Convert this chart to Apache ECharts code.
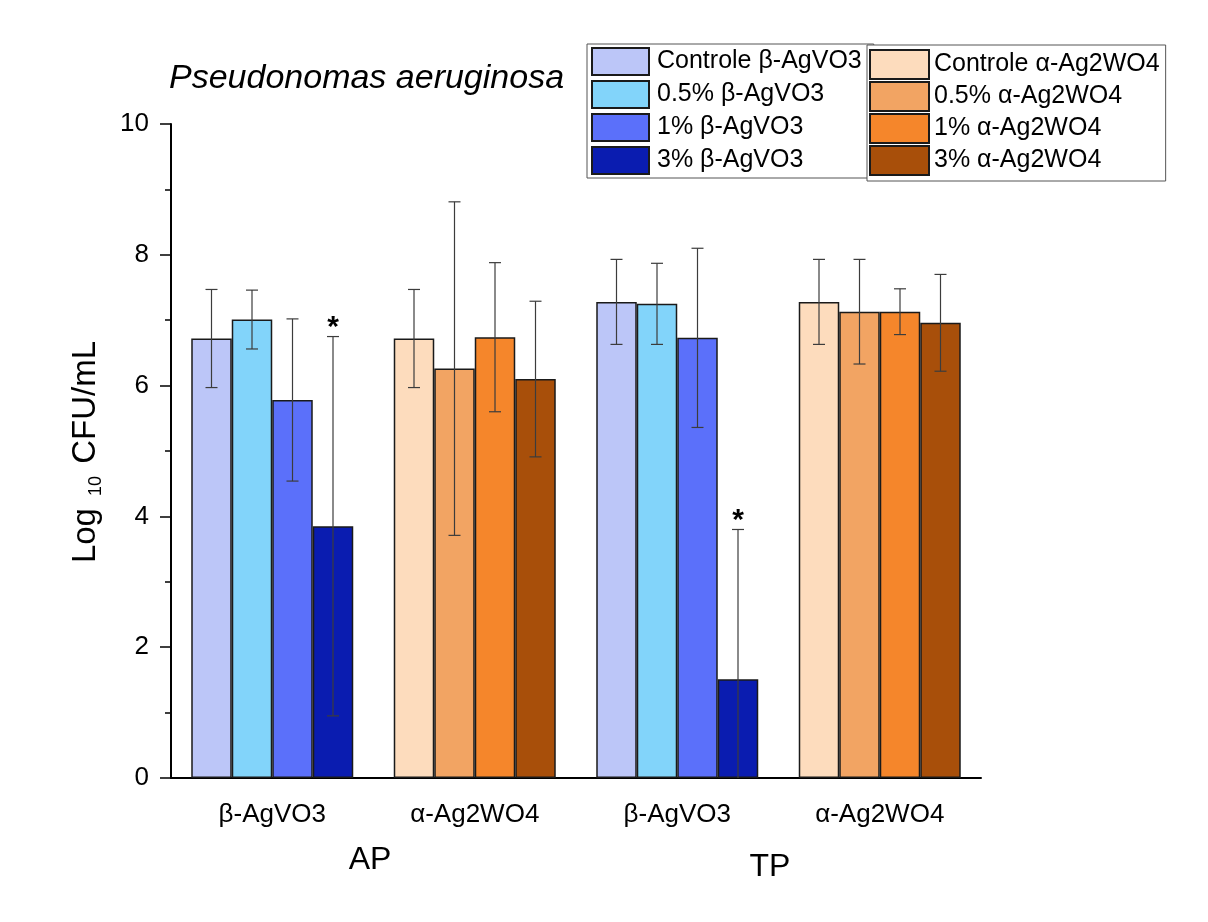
<!DOCTYPE html>
<html>
<head>
<meta charset="utf-8">
<title>Pseudonomas aeruginosa</title>
<script src="https://cdn.jsdelivr.net/npm/echarts/dist/echarts.min.js"></script>
<style>
  html, body { margin: 0; padding: 0; background: #ffffff; }
  #chart { width: 1208px; height: 922px; }
</style>
</head>
<body>
<div id="chart"></div>
<script>
// Group labels along the x axis (AP block, then TP block)
const categories = ['β-AgVO3', 'α-Ag2WO4', 'β-AgVO3', 'α-Ag2WO4'];
const yTicks = [0, 2, 4, 6, 8, 10];

// Series names (one bar slot per concentration)
const betaNames = ['Controle β-AgVO3', '0.5% β-AgVO3', '1% β-AgVO3', '3% β-AgVO3'];
const alphaNames = ['Controle α-Ag2WO4', '0.5% α-Ag2WO4', '1% α-Ag2WO4', '3% α-Ag2WO4'];

// Means (log10 CFU/mL) and standard deviations
const betaAP = [6.72, 7.01, 5.78, 3.85];
const betaAPsd = [0.75, 0.45, 1.24, 2.90];
const alphaAP = [6.72, 6.26, 6.74, 6.10];
const alphaAPsd = [0.75, 2.55, 1.14, 1.19];
const betaTP = [7.28, 7.25, 6.73, 1.51];
const betaTPsd = [0.65, 0.62, 1.37, 2.29];
const alphaTP = [7.28, 7.13, 7.13, 6.96];
const alphaTPsd = [0.65, 0.80, 0.35, 0.74];

// Significance markers (*) per bar
const betaAPsig = [0, 0, 0, 1];
const alphaAPsig = [0, 0, 0, 0];
const betaTPsig = [0, 0, 0, 1];
const alphaTPsig = [0, 0, 0, 0];

const betaColors = ['#bcc6f8', '#82d4fa', '#5b70fa', '#0a1cb0'];
const alphaColors = ['#fddcbd', '#f2a463', '#f5862b', '#a84f0a'];

const FONT = 'Liberation Sans, Arial, sans-serif';
const BAR_GAP_RATIO = 0.2; // barCategoryGap
const SLOTS = 4;

const series = [];
for (let i = 0; i < SLOTS; i++) {
  series.push({
    name: betaNames[i],
    type: 'bar',
    stack: 'slot' + i,
    data: [betaAP[i], '-', betaTP[i], '-'],
    itemStyle: { color: betaColors[i], borderColor: '#1a1a1a', borderWidth: 1.5 },
    barGap: '0%',
    barCategoryGap: '20%'
  });
  series.push({
    name: alphaNames[i],
    type: 'bar',
    stack: 'slot' + i,
    data: ['-', alphaAP[i], '-', alphaTP[i]],
    itemStyle: { color: alphaColors[i], borderColor: '#1a1a1a', borderWidth: 1.5 },
    barGap: '0%',
    barCategoryGap: '20%'
  });
}

// Error bar rows: [category index, mean, sd, slot, significant]
const errRows = [];
function addRows(cat, means, sds, sig) {
  for (let i = 0; i < SLOTS; i++) errRows.push([cat, means[i], sds[i], i, sig[i]]);
}
addRows(0, betaAP, betaAPsd, betaAPsig);
addRows(1, alphaAP, alphaAPsd, alphaAPsig);
addRows(2, betaTP, betaTPsd, betaTPsig);
addRows(3, alphaTP, alphaTPsd, alphaTPsig);

series.push({
  name: 'errors',
  type: 'custom',
  xAxisIndex: 0,
  yAxisIndex: 0,
  z: 10,
  encode: { x: 0, y: 1 },
  data: errRows,
  renderItem: function (params, api) {
    const cat = api.value(0), mean = api.value(1), sd = api.value(2);
    const slot = api.value(3), sig = api.value(4);
    const band = api.size([1, 0])[0];
    const bw = band * (1 - BAR_GAP_RATIO) / SLOTS;
    const x = api.coord([cat, 0])[0] - band * (1 - BAR_GAP_RATIO) / 2 + (slot + 0.5) * bw;
    const hi = mean + sd;
    const lo = Math.max(0, mean - sd);
    const yHi = api.coord([cat, hi])[1];
    const yLo = api.coord([cat, lo])[1];
    const cap = 6;
    const stroke = { stroke: '#3c3c3c', lineWidth: 1.2 };
    const children = [
      { type: 'line', shape: { x1: x, y1: yHi, x2: x, y2: yLo }, style: stroke },
      { type: 'line', shape: { x1: x - cap, y1: yHi, x2: x + cap, y2: yHi }, style: stroke }
    ];
    if (mean - sd > 0) {
      children.push({ type: 'line', shape: { x1: x - cap, y1: yLo, x2: x + cap, y2: yLo }, style: stroke });
    }
    if (sig) {
      children.push({
        type: 'text',
        style: {
          text: '*', x: x, y: yHi - 9, textAlign: 'center', textVerticalAlign: 'middle',
          font: 'bold 30px ' + FONT, fill: '#000'
        }
      });
    }
    return { type: 'group', children: children };
  }
});

const option = {
  backgroundColor: '#ffffff',
  animation: false,
  textStyle: { fontFamily: FONT },
  title: {
    text: 'Pseudonomas aeruginosa',
    left: 164,
    top: 57,
    textStyle: { fontFamily: FONT, fontStyle: 'italic', fontWeight: 'normal', fontSize: 34, color: '#000' }
  },
  legend: [
    {
      data: betaNames,
      orient: 'vertical',
      left: 587,
      top: 44,
      padding: [3, 12, 3, 4],
      itemWidth: 57,
      itemHeight: 27,
      itemGap: 4,
      icon: 'rect',
      backgroundColor: '#ffffff',
      borderColor: '#555',
      borderWidth: 1,
      z: 5,
      selectedMode: false,
      textStyle: { fontFamily: FONT, fontSize: 25, color: '#000', padding: [0, 0, 0, 3] }
    },
    {
      data: alphaNames,
      orient: 'vertical',
      left: 867,
      top: 45,
      padding: [4, 6, 5, 2],
      itemWidth: 59,
      itemHeight: 29,
      itemGap: 1,
      icon: 'rect',
      backgroundColor: '#ffffff',
      borderColor: '#555',
      borderWidth: 1,
      z: 6,
      selectedMode: false,
      textStyle: { fontFamily: FONT, fontSize: 25, color: '#000' }
    }
  ],
  grid: { left: 171, right: 227, top: 124, bottom: 144, containLabel: false },
  xAxis: [
    {
      type: 'category',
      data: categories,
      position: 'bottom',
      axisLine: { lineStyle: { color: '#000', width: 2 } },
      axisTick: { alignWithLabel: true, length: 11, lineStyle: { color: '#000', width: 1.5 } },
      axisLabel: { fontFamily: FONT, fontSize: 26, color: '#000', margin: 24 },
      splitLine: { show: false }
    },
    {
      type: 'category',
      data: categories,
      position: 'bottom',
      axisLine: { show: false },
      axisTick: { alignWithLabel: false, length: 5, lineStyle: { color: '#000', width: 1.5 } },
      axisLabel: { show: false },
      splitLine: { show: false }
    }
  ],
  yAxis: {
    type: 'value',
    min: yTicks[0],
    max: yTicks[yTicks.length - 1],
    interval: yTicks[1] - yTicks[0],
    axisLine: { show: true, lineStyle: { color: '#000', width: 2 } },
    axisTick: { show: true, length: 11, lineStyle: { color: '#000', width: 1.5 } },
    minorTick: { show: true, splitNumber: 2, length: 6, lineStyle: { color: '#000', width: 1.5 } },
    axisLabel: { fontFamily: FONT, fontSize: 26, color: '#000', margin: 22 },
    splitLine: { show: false }
  },
  graphic: [
    {
      type: 'text',
      x: 86,
      y: 452,
      rotation: Math.PI / 2,
      style: {
        text: '{a|Log }{b|10}{a| CFU/mL}',
        textAlign: 'center',
        textVerticalAlign: 'middle',
        fill: '#000',
        rich: {
          a: { fontFamily: FONT, fontSize: 33, lineHeight: 38, verticalAlign: 'middle', fill: '#000' },
          b: { fontFamily: FONT, fontSize: 18, lineHeight: 18, verticalAlign: 'bottom', fill: '#000', padding: [0, 3, 0, 3] }
        }
      }
    },
    {
      type: 'text', x: 370, y: 860,
      style: { text: 'AP', font: '32px ' + FONT, fill: '#000', textAlign: 'center', textVerticalAlign: 'middle' }
    },
    {
      type: 'text', x: 770, y: 867,
      style: { text: 'TP', font: '32px ' + FONT, fill: '#000', textAlign: 'center', textVerticalAlign: 'middle' }
    }
  ],
  series: series
};

const chart = echarts.init(document.getElementById('chart'), null, { renderer: 'canvas' });
chart.setOption(option);
</script>
</body>
</html>
